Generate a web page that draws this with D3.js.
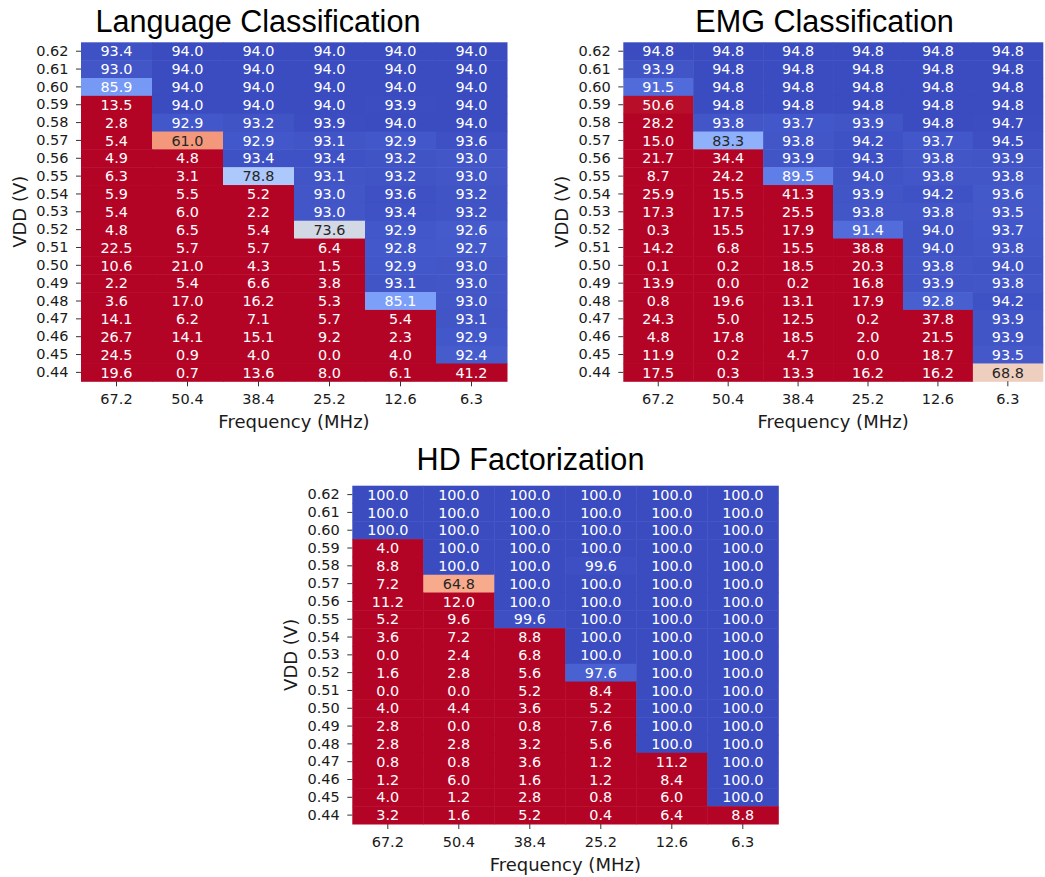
<!DOCTYPE html>
<html>
<head>
<meta charset="utf-8">
<script src="https://cdn.jsdelivr.net/npm/d3@7"></script>
<style>
  body { margin: 0; background: #fff; }
  svg { display: block; }
</style>
</head>
<body>
<div id="chart"></div>
<script>
// axis categories
var freqLabels = ["67.2", "50.4", "38.4", "25.2", "12.6", "6.3"];
var vddLabels = ["0.62", "0.61", "0.60", "0.59", "0.58", "0.57", "0.56", "0.55", "0.54", "0.53",
                 "0.52", "0.51", "0.50", "0.49", "0.48", "0.47", "0.46", "0.45", "0.44"];

// accuracy (%) per VDD row, columns follow freqLabels
var languageAcc = [
  [93.4, 94.0, 94.0, 94.0, 94.0, 94.0],
  [93.0, 94.0, 94.0, 94.0, 94.0, 94.0],
  [85.9, 94.0, 94.0, 94.0, 94.0, 94.0],
  [13.5, 94.0, 94.0, 94.0, 93.9, 94.0],
  [2.8, 92.9, 93.2, 93.9, 94.0, 94.0],
  [5.4, 61.0, 92.9, 93.1, 92.9, 93.6],
  [4.9, 4.8, 93.4, 93.4, 93.2, 93.0],
  [6.3, 3.1, 78.8, 93.1, 93.2, 93.0],
  [5.9, 5.5, 5.2, 93.0, 93.6, 93.2],
  [5.4, 6.0, 2.2, 93.0, 93.4, 93.2],
  [4.8, 6.5, 5.4, 73.6, 92.9, 92.6],
  [22.5, 5.7, 5.7, 6.4, 92.8, 92.7],
  [10.6, 21.0, 4.3, 1.5, 92.9, 93.0],
  [2.2, 5.4, 6.6, 3.8, 93.1, 93.0],
  [3.6, 17.0, 16.2, 5.3, 85.1, 93.0],
  [14.1, 6.2, 7.1, 5.7, 5.4, 93.1],
  [26.7, 14.1, 15.1, 9.2, 2.3, 92.9],
  [24.5, 0.9, 4.0, 0.0, 4.0, 92.4],
  [19.6, 0.7, 13.6, 8.0, 6.1, 41.2]
];

var emgAcc = [
  [94.8, 94.8, 94.8, 94.8, 94.8, 94.8],
  [93.9, 94.8, 94.8, 94.8, 94.8, 94.8],
  [91.5, 94.8, 94.8, 94.8, 94.8, 94.8],
  [50.6, 94.8, 94.8, 94.8, 94.8, 94.8],
  [28.2, 93.8, 93.7, 93.9, 94.8, 94.7],
  [15.0, 83.3, 93.8, 94.2, 93.7, 94.5],
  [21.7, 34.4, 93.9, 94.3, 93.8, 93.9],
  [8.7, 24.2, 89.5, 94.0, 93.8, 93.8],
  [25.9, 15.5, 41.3, 93.9, 94.2, 93.6],
  [17.3, 17.5, 25.5, 93.8, 93.8, 93.5],
  [0.3, 15.5, 17.9, 91.4, 94.0, 93.7],
  [14.2, 6.8, 15.5, 38.8, 94.0, 93.8],
  [0.1, 0.2, 18.5, 20.3, 93.8, 94.0],
  [13.9, 0.0, 0.2, 16.8, 93.9, 93.8],
  [0.8, 19.6, 13.1, 17.9, 92.8, 94.2],
  [24.3, 5.0, 12.5, 0.2, 37.8, 93.9],
  [4.8, 17.8, 18.5, 2.0, 21.5, 93.9],
  [11.9, 0.2, 4.7, 0.0, 18.7, 93.5],
  [17.5, 0.3, 13.3, 16.2, 16.2, 68.8]
];

var hdAcc = [
  [100.0, 100.0, 100.0, 100.0, 100.0, 100.0],
  [100.0, 100.0, 100.0, 100.0, 100.0, 100.0],
  [100.0, 100.0, 100.0, 100.0, 100.0, 100.0],
  [4.0, 100.0, 100.0, 100.0, 100.0, 100.0],
  [8.8, 100.0, 100.0, 99.6, 100.0, 100.0],
  [7.2, 64.8, 100.0, 100.0, 100.0, 100.0],
  [11.2, 12.0, 100.0, 100.0, 100.0, 100.0],
  [5.2, 9.6, 99.6, 100.0, 100.0, 100.0],
  [3.6, 7.2, 8.8, 100.0, 100.0, 100.0],
  [0.0, 2.4, 6.8, 100.0, 100.0, 100.0],
  [1.6, 2.8, 5.6, 97.6, 100.0, 100.0],
  [0.0, 0.0, 5.2, 8.4, 100.0, 100.0],
  [4.0, 4.4, 3.6, 5.2, 100.0, 100.0],
  [2.8, 0.0, 0.8, 7.6, 100.0, 100.0],
  [2.8, 2.8, 3.2, 5.6, 100.0, 100.0],
  [0.8, 0.8, 3.6, 1.2, 11.2, 100.0],
  [1.2, 6.0, 1.6, 1.2, 8.4, 100.0],
  [4.0, 1.2, 2.8, 0.8, 6.0, 100.0],
  [3.2, 1.6, 5.2, 0.4, 6.4, 8.8]
];

// matplotlib "coolwarm" sampled at 0, 0.1, ... 1
var coolwarm = d3.piecewise(d3.interpolateRgb, ["#3b4cc0", "#5977e3", "#7b9ff9", "#9ebeff", "#c0d4f5",
  "#dddcdc", "#f2cbb7", "#f7ac8e", "#ee8468", "#d65244", "#b40426"]);

var tickFont = "'DejaVu Sans', sans-serif";
var titleFont = "'Liberation Sans', Arial, Helvetica, sans-serif";

var svg = d3.select("#chart")
  .append("svg")
    .attr("width", 1045)
    .attr("height", 877);

// seaborn picks dark or white annotation text from luminance
function textColor(c) {
  var rgb = d3.rgb(c);
  var lin = [rgb.r, rgb.g, rgb.b].map(function(v) {
    v = v / 255;
    return v <= 0.03928 ? v / 12.92 : Math.pow((v + 0.055) / 1.055, 2.4);
  });
  var lum = 0.2126 * lin[0] + 0.7152 * lin[1] + 0.0722 * lin[2];
  return lum > 0.408 ? "#262626" : "#ffffff";
}

function drawHeatmap(opts) {
  var width = opts.width, height = opts.height;

  var g = svg.append("g")
    .attr("transform", "translate(" + opts.left + "," + opts.top + ")");

  var x = d3.scaleBand().domain(freqLabels).range([0, width]);
  var y = d3.scaleBand().domain(vddLabels).range([0, height]);

  // high accuracy -> blue, below 50 clamps to red
  var color = d3.scaleSequential(coolwarm).domain([opts.vmax, 50]).clamp(true);

  var cells = [];
  opts.data.forEach(function(row, i) {
    row.forEach(function(v, j) {
      cells.push({vdd: vddLabels[i], freq: freqLabels[j], value: v});
    });
  });

  g.selectAll("rect")
    .data(cells)
    .enter().append("rect")
      .attr("x", function(d) { return x(d.freq); })
      .attr("y", function(d) { return y(d.vdd); })
      .attr("width", x.bandwidth() + 0.5)
      .attr("height", y.bandwidth() + 0.5)
      .attr("fill", function(d) { return color(d.value); });

  g.selectAll("text.cell")
    .data(cells)
    .enter().append("text")
      .attr("class", "cell")
      .attr("x", function(d) { return x(d.freq) + x.bandwidth() / 2; })
      .attr("y", function(d) { return y(d.vdd) + y.bandwidth() / 2; })
      .attr("dy", "0.36em")
      .attr("text-anchor", "middle")
      .style("font-family", tickFont)
      .style("font-size", "14.4px")
      .style("fill", function(d) { return textColor(color(d.value)); })
      .text(function(d) { return d.value.toFixed(1); });

  // Y axis
  var yAxis = g.append("g")
    .call(d3.axisLeft(y).tickSize(5).tickPadding(7.5));
  yAxis.select(".domain").remove();
  yAxis.selectAll("text")
    .style("font-family", tickFont)
    .style("font-size", "14.5px")
    .style("fill", "#1a1a1a");
  yAxis.selectAll("line").attr("stroke", "#333");

  // X axis
  var xAxis = g.append("g")
    .attr("transform", "translate(0," + height + ")")
    .call(d3.axisBottom(x).tickSize(5).tickPadding(7.5));
  xAxis.select(".domain").remove();
  xAxis.selectAll("text")
    .style("font-family", tickFont)
    .style("font-size", "14.5px")
    .style("fill", "#1a1a1a");
  xAxis.selectAll("line").attr("stroke", "#333");

  g.append("text")
    .attr("x", width / 2)
    .attr("y", height + 47)
    .attr("text-anchor", "middle")
    .style("font-family", tickFont)
    .style("font-size", "18px")
    .style("fill", "#1a1a1a")
    .text("Frequency (MHz)");

  g.append("text")
    .attr("transform", "translate(-55," + (height / 2) + ") rotate(-90)")
    .attr("text-anchor", "middle")
    .style("font-family", tickFont)
    .style("font-size", "18px")
    .style("fill", "#1a1a1a")
    .text("VDD (V)");

  svg.append("text")
    .attr("x", opts.titleX)
    .attr("y", opts.titleY)
    .attr("text-anchor", "middle")
    .style("font-family", titleFont)
    .style("font-size", "30.6px")
    .style("fill", "#000")
    .text(opts.title);
}

drawHeatmap({title: "Language Classification", data: languageAcc, vmax: 94.0,
  left: 81, top: 42.3, width: 426, height: 339, titleX: 258, titleY: 31.5});
drawHeatmap({title: "EMG Classification", data: emgAcc, vmax: 94.8,
  left: 623.3, top: 42.3, width: 419.5, height: 339, titleX: 824.5, titleY: 31.5});
drawHeatmap({title: "HD Factorization", data: hdAcc, vmax: 100.0,
  left: 352.3, top: 485.7, width: 426, height: 338.3, titleX: 530.5, titleY: 469.5});
</script>
</body>
</html>
